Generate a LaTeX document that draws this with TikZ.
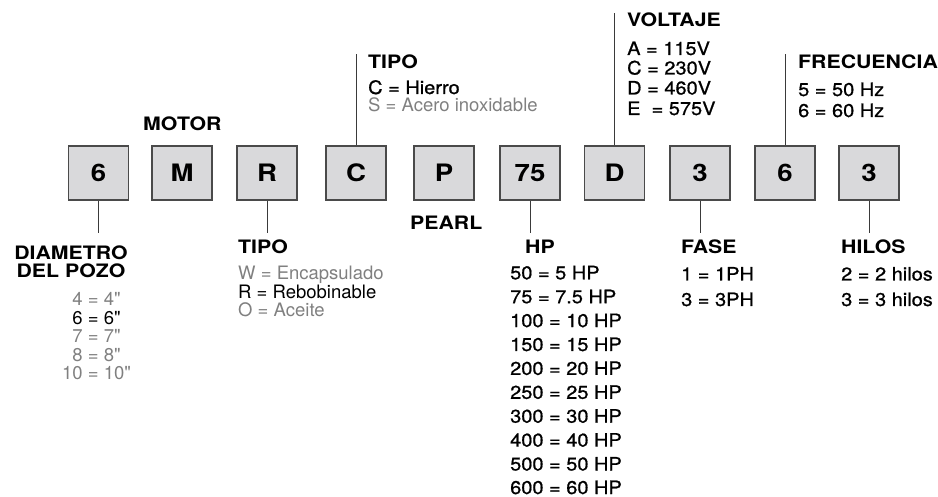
\documentclass[tikz,border=0pt]{standalone}
\usepackage{fontspec}
\setmainfont{TeX Gyre Heros}
\newfontfamily\hr{TeX Gyre Heros}
\newfontfamily\hb[FakeStretch=1.15]{TeX Gyre Heros}
\newfontfamily\hm[FakeBold=0.8,FakeStretch=1.08]{TeX Gyre Heros}
\definecolor{boxfill}{HTML}{D9D9DB}
\definecolor{boxline}{HTML}{4A4A4A}
\definecolor{leadcol}{HTML}{3A3A3A}
\definecolor{optgray}{HTML}{808080}
\tikzset{
  hd/.style={anchor=base west, inner sep=0pt, font=\hb\bfseries\fontsize{18.5}{20}\selectfont},
  val/.style={anchor=base west, inner sep=0pt, font=\hm\fontsize{18.5}{20}\selectfont},
  opt/.style={anchor=base west, inner sep=0pt, text=optgray, font=\hr\fontsize{18.5}{20}\selectfont},
  sel/.style={opt, text=black},
  codebox/.style={draw=boxline, fill=boxfill, line width=1.2pt, minimum width=60pt, minimum height=54pt, inner sep=0pt, font=\hb\bfseries\fontsize{24}{24}\selectfont},
  lead/.style={draw=leadcol, line width=1pt}
}
\begin{document}
\begin{tikzpicture}[x=1pt,y=-1pt]
\useasboundingbox (0,0) rectangle (938,497);
% code boxes
\node[codebox] (b1) at (98.5,173) {6};
\node[codebox] (b2) at (182,173) {M};
\node[codebox] (b3) at (267,173) {R};
\node[codebox] (b4) at (356,173) {C};
\node[codebox] (b5) at (444,173) {P};
\node[codebox] (b6) at (530,173) {75};
\node[codebox] (b7) at (614.5,173) {D};
\node[codebox] (b8) at (700,173) {3};
\node[codebox] (b9) at (785,173) {6};
\node[codebox] (b10) at (869,173) {3};
% free ends of leaders
\coordinate (e1) at (98.5,233);
\coordinate (e3) at (267,233);
\coordinate (e4) at (356,54);
\coordinate (e6) at (530,233);
\coordinate (e7) at (614.5,13);
\coordinate (e8) at (700,233);
\coordinate (e9) at (785,54);
\coordinate (e10) at (869,233);
\draw[lead] (b1.south) -- (e1);
\draw[lead] (b3.south) -- (e3);
\draw[lead] (b4.north) -- (e4);
\draw[lead] (b6.south) -- (e6);
\draw[lead] (b7.north) -- (e7);
\draw[lead] (b8.south) -- (e8);
\draw[lead] (b9.north) -- (e9);
\draw[lead] (b10.south) -- (e10);
% labels without leaders
\node[hd] (motor) at (143,130.5) {MOTOR};
\node[hd] (pearl) at (410,230) {PEARL};
% TIPO (top)
\node[hd] (tipoc) at (368,68.3) {TIPO};
\node[val] (tc1) at (368,94) {C = Hierro};
\node[opt] (tc2) at (368,112) {S = Acero inoxidable};
% VOLTAJE
\node[hd] (volt) at (627,26.5) {VOLTAJE};
\node[val] (v1) at (627,55) {A = 115V};
\node[val] (v2) at (627,74.5) {C = 230V};
\node[val] (v3) at (627,94.5) {D = 460V};
\node[val] (v4) at (627,115) {E~\ = 575V};
% FRECUENCIA
\node[hd] (frec) at (798,68.3) {FRECUENCIA};
\node[val] (f1) at (798,96) {5 = 50 Hz};
\node[val] (f2) at (798,117) {6 = 60 Hz};
% DIAMETRO DEL POZO
\node[hd, anchor=base] (dia1) at (71,259.3) {DIAMETRO};
\node[hd, anchor=base] (dia2) at (71,278) {DEL POZO};
\node[opt, anchor=base] (d1) at (96.5,306) {4 = 4"};
\node[sel, anchor=base] (d2) at (96.5,324.5) {6 = 6"};
\node[opt, anchor=base] (d3) at (96.5,343) {7 = 7"};
\node[opt, anchor=base] (d4) at (96.5,361.5) {8 = 8"};
\node[opt, anchor=base] (d5) at (96.5,380) {10 = 10"};
% TIPO (bottom)
\node[hd] (tipor) at (238,254) {TIPO};
\node[opt] (tr1) at (238,280) {W = Encapsulado};
\node[sel] (tr2) at (238,298.5) {R = Rebobinable};
\node[opt] (tr3) at (238,317) {O = Aceite};
% HP
\node[hd] (hp) at (525,254) {HP};
\node[val] (h1) at (510,279.3) {50 = 5 HP};
\node[val] (h2) at (510,303.2) {75 = 7.5 HP};
\node[val] (h3) at (510,327.1) {100 = 10 HP};
\node[val] (h4) at (510,351) {150 = 15 HP};
\node[val] (h5) at (510,374.9) {200 = 20 HP};
\node[val] (h6) at (510,398.8) {250 = 25 HP};
\node[val] (h7) at (510,422.7) {300 = 30 HP};
\node[val] (h8) at (510,446.6) {400 = 40 HP};
\node[val] (h9) at (510,470.5) {500 = 50 HP};
\node[val] (h10) at (510,494) {600 = 60 HP};
% FASE
\node[hd] (fase) at (681,254) {FASE};
\node[val] (fa1) at (681,280.5) {1 = 1PH};
\node[val] (fa2) at (681,306) {3 = 3PH};
% HILOS
\node[hd] (hilos) at (841,254) {HILOS};
\node[val] (hi1) at (841,280.5) {2 = 2 hilos};
\node[val] (hi2) at (841,306) {3 = 3 hilos};
\end{tikzpicture}
\end{document}
